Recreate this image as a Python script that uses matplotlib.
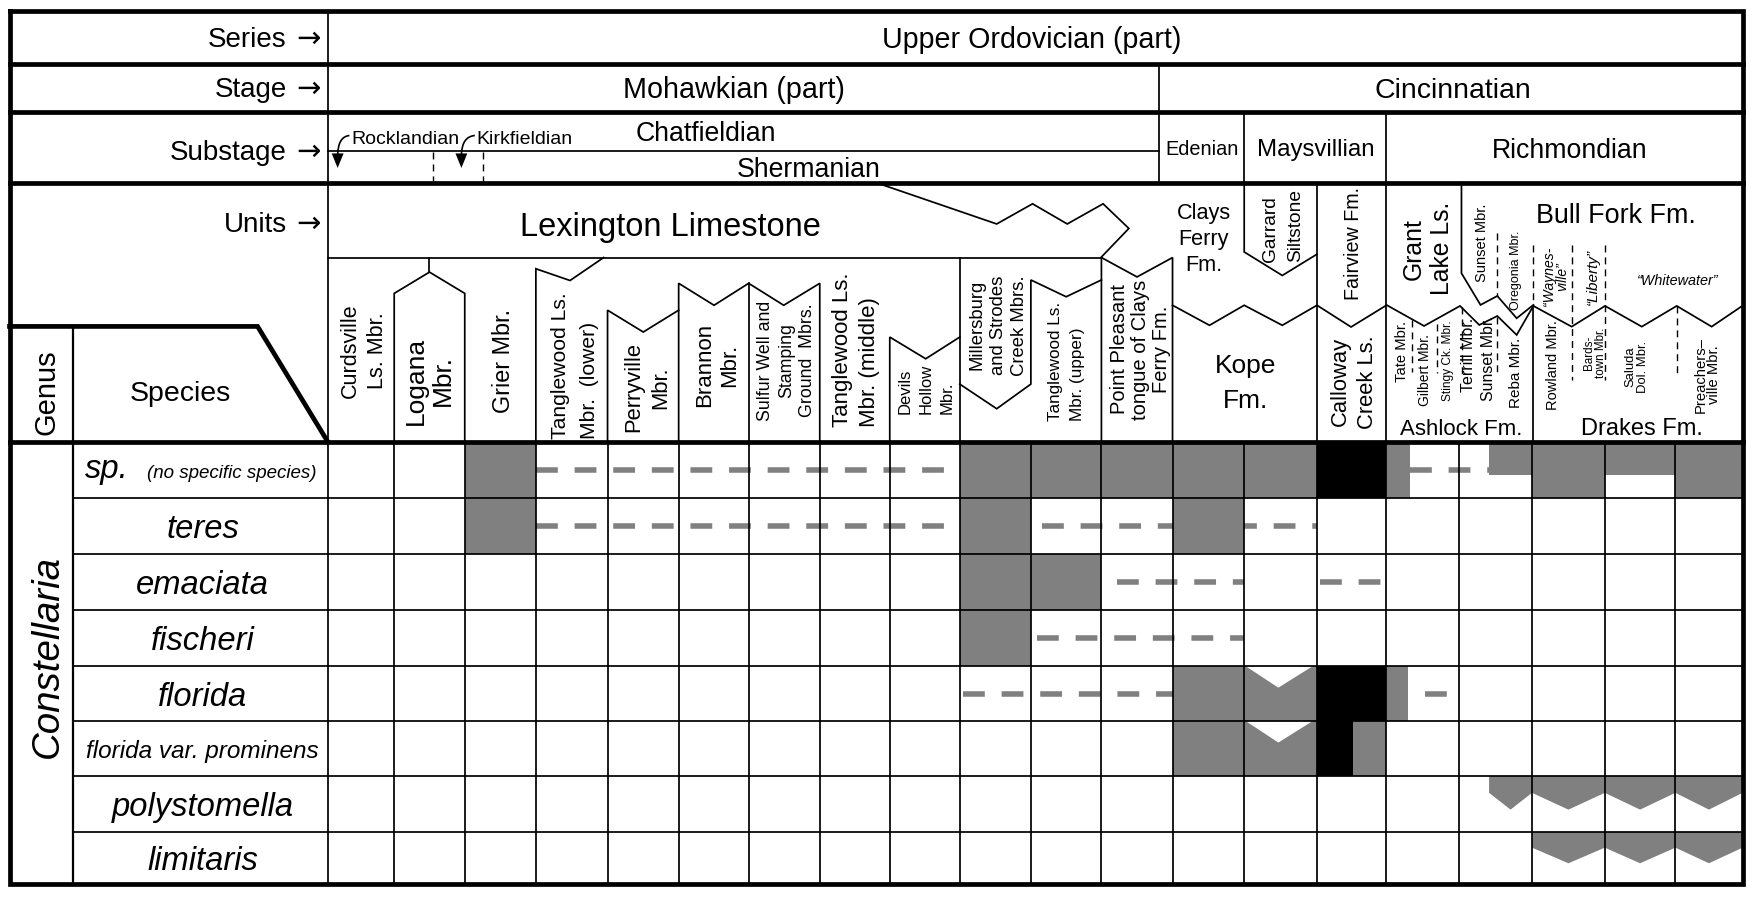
import matplotlib
matplotlib.use("Agg")
import matplotlib.pyplot as plt
from matplotlib.patches import Polygon, Rectangle, PathPatch
from matplotlib.path import Path

plt.rcParams['font.family'] = ['Liberation Sans', 'DejaVu Sans']
plt.rcParams['lines.scale_dashes'] = False

# ---------------- data ----------------
series_name = "Upper Ordovician (part)"
stage_names = ["Mohawkian (part)", "Cincinnatian"]
substage_names = ["Chatfieldian", "Shermanian", "Edenian", "Maysvillian", "Richmondian"]
genus_name = "Constellaria"
species = ["sp.", "teres", "emaciata", "fischeri", "florida",
           "florida var. prominens", "polystomella", "limitaris"]

unit_labels = [
    ["Curdsville", "Ls. Mbr."],
    ["Logana", "Mbr."],
    ["Grier Mbr."],
    ["Tanglewood Ls.", "Mbr.  (lower)"],
    ["Perryville", "Mbr."],
    ["Brannon", "Mbr."],
    ["Sulfur Well and", "Stamping", "Ground  Mbrs."],
    ["Tanglewood Ls.", "Mbr. (middle)"],
    ["Devils", "Hollow", "Mbr."],
    ["Millersburg", "and Strodes", "Creek Mbrs."],
    ["Tanglewood Ls.", "Mbr. (upper)"],
    ["Point Pleasant", "tongue of Clays", "Ferry Fm."],
]

# occurrence ranges, in column units (0 = Curdsville ... 20 = right edge)
# (row, from, to)
gray_ranges = [(0, 2, 3), (0, 9, 14), (0, 15, 15.32), (0, 17, 18), (0, 19, 20),
               (1, 2, 3), (1, 9, 10), (1, 12, 13),
               (2, 9, 11), (3, 9, 10),
               (4, 12, 13), (4, 15, 15.3),
               (5, 12, 13), (5, 14.52, 15)]
gray_top_half = [(0, 16.41, 17), (0, 18, 19)]
black_ranges = [(0, 14, 15), (4, 14, 15), (5, 14, 14.52)]
notched_ranges = [(4, 13, 14), (5, 13, 14)]
zigzag_ranges = [(6, 16.41, 20), (7, 17, 20)]
dashed_ranges = [(0, 3, 9), (0, 15.33, 16.41), (1, 3, 9), (1, 10.16, 14),
                 (2, 11.22, 13), (2, 14.05, 15), (3, 10.09, 13),
                 (4, 9.04, 12), (4, 15.53, 15.83)]

# ---------------- layout ----------------
W, H = 1568, 803.7
col_edges = [293, 352, 415, 478.5, 542.5, 606, 668.5, 732, 794.5, 857, 920.5,
             983.5, 1047, 1111, 1176, 1238, 1303, 1368, 1433, 1496, 1556]
row_edges = [395, 445, 495, 545, 595, 644, 693, 743, 789.5]
L, R, T, B = 8.5, 1556, 9.6, 789.5
THICK, THIN = 3.4, 1.25
GRAY = '#808080'

fig = plt.figure(figsize=(17.56, 9.0), dpi=100)
ax = fig.add_axes([0, 0, 1, 1])
ax.set_xlim(0, W)
ax.set_ylim(H, 0)
ax.axis('off')


def cx(c):
    i = min(int(c), 19)
    return col_edges[i] + (c - i) * (col_edges[i + 1] - col_edges[i])


def line(xs, ys, lw=THIN, z=3, **kw):
    ax.plot(xs, ys, color='black', lw=lw, zorder=z, solid_capstyle='projecting',
            solid_joinstyle='miter', **kw)


def dline(xs, ys):
    ax.plot(xs, ys, color='black', lw=1.0, dashes=(5, 3.6), zorder=3)


def htext(x, y, s, size, ha='center', style='normal', va='center_baseline', **kw):
    ax.text(x, y, s, fontsize=size, ha=ha, va=va, style=style, zorder=4, **kw)


def vlabel(lines, xc, y, size, pitch, align='center', style='normal'):
    n = len(lines)
    for i, s in enumerate(lines):
        x = xc + (i - (n - 1) / 2) * pitch
        ax.text(x, y, s, fontsize=size, rotation=90, rotation_mode='anchor',
                ha='center' if align == 'center' else 'left',
                va='center_baseline', style=style, zorder=4)


# ---------------- occurrence fills ----------------
def rh(r):
    return row_edges[r], row_edges[r + 1]


for r, a, b in dashed_ranges:
    y0, y1 = rh(r)
    ym = (y0 + y1) / 2
    ax.plot([cx(a), cx(b)], [ym, ym], color=GRAY, lw=4.0, dashes=(15.7, 12.1),
            dash_capstyle='butt', zorder=1)

for r, a, b in gray_ranges:
    y0, y1 = rh(r)
    ax.add_patch(Rectangle((cx(a), y0), cx(b) - cx(a), y1 - y0, color=GRAY, lw=0, zorder=2))

for r, a, b in gray_top_half:
    y0, y1 = rh(r)
    ax.add_patch(Rectangle((cx(a), y0), cx(b) - cx(a), 0.58 * (y1 - y0), color=GRAY, lw=0, zorder=2))

for r, a, b in black_ranges:
    y0, y1 = rh(r)
    ax.add_patch(Rectangle((cx(a), y0), cx(b) - cx(a), y1 - y0, color='black', lw=0, zorder=2))

for r, a, b in notched_ranges:
    y0, y1 = rh(r)
    x0, x1 = cx(a), cx(b)
    ax.add_patch(Rectangle((x0, y0), x1 - x0, y1 - y0, color=GRAY, lw=0, zorder=2))
    ax.add_patch(Polygon([(x0 + 1.5, y0), ((x0 + x1) / 2 - 2, y0 + 0.39 * (y1 - y0)), (x1 - 4, y0)],
                         closed=True, color='white', lw=0, zorder=2.5))

for r, a, b in zigzag_ranges:
    y0, y1 = rh(r)
    h = y1 - y0
    pts = [(cx(a), y0)]
    stops = [a] + [c for c in range(int(a) + 1, int(b) + 1) if c > a]
    if stops[-1] != b:
        stops.append(b)
    pts.append((cx(stops[0]), y0 + 0.3 * h))
    for s0, s1 in zip(stops[:-1], stops[1:]):
        pts.append(((cx(s0) + cx(s1)) / 2, y0 + 0.6 * h))
        pts.append((cx(s1), y0 + 0.3 * h))
    pts.append((cx(b), y0))
    ax.add_patch(Polygon(pts, closed=True, color=GRAY, lw=0, zorder=2))

# ---------------- grid ----------------
for x in col_edges[1:-1]:
    line([x, x], [row_edges[0], B])
for y in row_edges[1:-1]:
    line([65.6, R], [y, y])
line([65.6, 65.6], [291.5, B], lw=1.6)
line([293, 293], [T, B])

# frame and thick rules
line([L, R, R, L, L], [T, T, B, B, T], lw=THICK)
for y in (57, 100, 163, 395):
    line([L, R], [y, y], lw=THICK)
line([L, 230, 293], [291.5, 291.5, 395], lw=THICK)

# stage / substage dividers
line([1035, 1035], [57, 163])
line([1111, 1111], [100, 163])
line([1238, 1238], [100, 163])
line([293, 1035], [134.5, 134.5])
dline([387, 387], [136, 162])
dline([431.6, 431.6], [136, 162])

# ---------------- units outlines ----------------
line([293, 983.5], [230, 230])
line([785, 890, 922, 953, 985, 1008, 983.5, 983.5], [164, 200, 182, 200, 182, 204, 229.5, 395])
# Logana
line([383.5, 383.5], [230, 243])
line([352, 352, 383.5, 415, 415], [395, 262, 243, 262, 395])
# Tanglewood lower
line([478.5, 478.5, 509, 539], [395, 240, 250.5, 230])
# Perryville
line([542.5, 542.5, 574.4, 606], [395, 277, 296.5, 277])
# Brannon, Sulfur Well
line([606, 606, 637.6, 668.5, 699.8, 732, 732], [395, 253, 272.6, 253, 272.6, 253, 395])
line([668.5, 668.5], [253, 395])
# Devils Hollow
line([794.5, 794.5, 826.6, 857], [395, 301, 320.4, 301])
# Millersburg
line([857, 857], [230, 395])
line([857, 890, 920.5, 920.5, 952, 983.5], [343, 365, 343, 250, 265, 250])
# Point Pleasant
line([983.5, 1015.3, 1047, 1047], [230, 247.3, 230, 395])
# Clays Ferry / Kope / Garrard / Fairview
line([1047, 1080, 1111, 1145, 1176, 1206.4, 1238], [272.6, 290.5, 272.6, 290.5, 272.6, 292, 272.6])
line([1111, 1111, 1145, 1176], [163, 225, 246, 227])
line([1176, 1176], [163, 395])
line([1238, 1238], [163, 395])
# Grant Lake / Bull Fork / Ashlock / Drakes
line([1305, 1305, 1322, 1337, 1354.3, 1369.2], [163, 244, 272.3, 264.3, 284.2, 272.3])
line([1238, 1271.6, 1303.7, 1320.9, 1337, 1354.3, 1369.2],
     [272.3, 291.1, 273.2, 290.2, 282.2, 299.1, 273.2])
line([1369.2, 1403.4, 1433.2, 1466, 1497.2, 1528.4, 1556],
     [273.2, 291.7, 273.2, 291.7, 273.2, 291.7, 273])
line([1369, 1369], [273, 395])
for x, y0, y1 in [(1337, 208, 264), (1369.2, 219, 272), (1403.4, 219, 339), (1433.2, 219, 339),
                  (1497.8, 273, 333), (1260.5, 286, 332), (1283.4, 289, 333),
                  (1305.2, 274, 335), (1337, 283, 333)]:
    dline([x, x], [y0, y1])

# ---------------- header text ----------------
for y, s in [(33, "Series"), (78, "Stage"), (134, "Substage"), (198, "Units")]:
    htext(256, y, s, 20, ha='right')
    htext(286, y - 1, "\u2192", 21, ha='right', family=['DejaVu Sans'])
htext(921.5, 33, series_name, 20.6)
htext(655.5, 78, stage_names[0], 20.7)
htext(1297, 79, stage_names[1], 20.5)
htext(630, 117, substage_names[0], 19.2)
htext(722, 149, substage_names[1], 19.2)
htext(1073, 132, substage_names[2], 14.3)
htext(1175, 132, substage_names[3], 17.3)
htext(1402, 132, substage_names[4], 19.2)
htext(314, 122.6, "Rocklandian", 14, ha='left')
htext(425.7, 122.6, "Kirkfieldian", 14, ha='left')
for x0, y0, x1 in [(312, 121, 301.5), (424, 121, 412)]:
    curve = Path([(x0, y0), (x1 + 0.5, y0 + 1), (x1, 138)],
                 [Path.MOVETO, Path.CURVE3, Path.CURVE3])
    ax.add_patch(PathPatch(curve, fill=False, lw=1.2, color='black', zorder=4))
    ax.add_patch(Polygon([(x1 - 5.3, 137), (x1 + 5.3, 137), (x1, 150)], closed=True,
                         color='black', lw=0, zorder=4))

# units text
unit_layout = [(323, 313, 15.5, 24, 'center'), (381, 340, 19, 24, 'center'),
               (447.5, 322.6, 16.8, 0, 'center'), (512, 392, 15.2, 25.7, 'bottom'),
               (576, 346, 15.8, 24, 'center'), (638.5, 326, 16, 22.2, 'center'),
               (700.9, 322, 12.8, 18.8, 'center'), (762.4, 381.6, 16, 24, 'bottom'),
               (825.6, 369.6, 12, 18.8, 'bottom'), (889.5, 290.5, 13.3, 18.8, 'center'),
               (951, 375.6, 12.3, 18.8, 'bottom'), (1017, 312, 14.5, 18.8, 'center')]
for lines, (x, y, size, pitch, align) in zip(unit_labels, unit_layout):
    vlabel(lines, x, y, size, pitch, align)

htext(598.5, 200, "Lexington Limestone", 23.5)
for y, s in [(188.2, "Clays"), (211.4, "Ferry"), (234.7, "Fm.")]:
    htext(1074.9, y, s, 15.6)
htext(1112, 325, "Kope", 19)
htext(1112, 356, "Fm.", 19)
vlabel(["Garrard", "Siltstone"], 1144, 233.8, 13.8, 22.2, 'bottom')
vlabel(["Fairview Fm."], 1207, 217, 14.2, 0)
vlabel(["Calloway", "Creek Ls."], 1206.5, 341, 15.8, 24)
vlabel(["Grant", "Lake Ls."], 1273, 222, 17.8, 25.4)
htext(1443, 190, "Bull Fork Fm.", 19.4)
vlabel(["Sunset Mbr."], 1321.6, 217, 10.5, 0)
vlabel(["Oregonia Mbr."], 1352.8, 241, 9, 0)
vlabel(["\u201cWaynes-", "ville\u201d"], 1388, 247, 10, 12, style='italic')
vlabel(["\u201cLiberty\u201d"], 1421.3, 247, 11, 0, style='italic')
htext(1498, 250, "\u201cWhitewater\u201d", 10.4, style='italic')
for x, y, s, size in [(1250.2, 314, "Tate Mbr.", 10.6), (1271, 330.4, "Gilbert Mbr.", 10),
                      (1291.8, 322, "Stingy Ck. Mbr.", 8.6), (1310.3, 317, "Terrill Mbr.", 11.5),
                      (1327.5, 320, "Sunset Mbr.", 11.4), (1352.8, 332.8, "Reba Mbr.", 11),
                      (1385.6, 326, "Rowland Mbr.", 10.5)]:
    vlabel([s], x, y, size, 0)
vlabel(["Bards-", "town Mbr."], 1422.8, 314.8, 8.4, 10.5)
vlabel(["Saluda", "Dol. Mbr."], 1460, 327.4, 9.4, 11)
vlabel(["Preachers\u2013", "ville Mbr."], 1523, 334.9, 10.6, 11.5)
htext(1305, 381, "Ashlock Fm.", 16)
htext(1466, 381, "Drakes Fm.", 17)

# ---------------- genus / species ----------------
vlabel(["Genus"], 39, 350, 21, 0)
htext(160.6, 348.8, "Species", 20.5)
vlabel([genus_name], 39.3, 586, 27.7, 0, style='italic')
ax.text(76, 427, species[0], fontsize=23.6, style='italic', ha='left', va='baseline', zorder=4)
ax.text(283, 427, "(no specific species)", fontsize=13.5, style='italic', ha='right',
        va='baseline', zorder=4)
for i, s in enumerate(species[1:], start=1):
    y0, y1 = rh(i)
    htext(181, (y0 + y1) / 2, s, 17.5 if 'var.' in s else 23.6, style='italic')

fig.savefig("out.png", dpi=100, facecolor='white')
